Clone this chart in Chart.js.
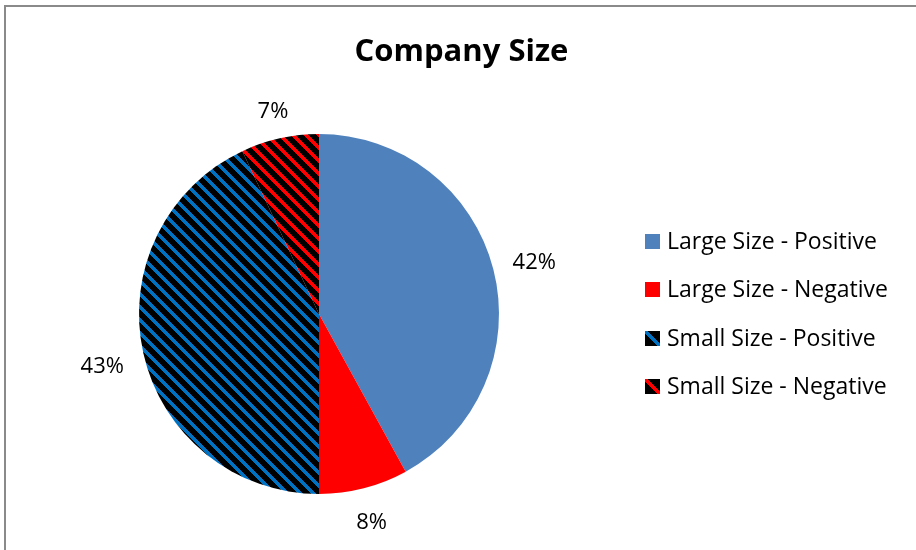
<!DOCTYPE html>
<html>
<head>
<meta charset="utf-8">
<script src="https://cdn.jsdelivr.net/npm/chart.js@4.4.1/dist/chart.umd.min.js"></script>
<style>
  html, body { margin: 0; padding: 0; background: #ffffff; }
  #wrap { position: relative; width: 916px; height: 550px; }
</style>
</head>
<body>
<div id="wrap"><canvas id="c" width="916" height="550"></canvas></div>
<script>
// ---- data ----
const titleText = 'Company Size';
const categories = ['Large Size - Positive', 'Large Size - Negative', 'Small Size - Positive', 'Small Size - Negative'];
const shares = [42, 8, 43, 7];

// ---- styles ----
const FONT = '"Open Sans", "Liberation Sans", sans-serif';

function stripePattern(color, period, width) {
  const cv = document.createElement('canvas');
  cv.width = period; cv.height = period;
  const cx = cv.getContext('2d');
  cx.fillStyle = '#000000';
  cx.fillRect(0, 0, period, period);
  cx.fillStyle = color;
  for (let y = 0; y < period; y++) {
    for (let x = 0; x < period; x++) {
      const d = ((x - y) % period + period) % period;
      if (d < width) cx.fillRect(x, y, 1, 1);
    }
  }
  return cv;
}
function legendSwatch(color, size) {
  const cv = document.createElement('canvas');
  cv.width = size; cv.height = size;
  const cx = cv.getContext('2d');
  cx.fillStyle = '#000000';
  cx.fillRect(0, 0, size, size);
  cx.fillStyle = color;
  for (let y = 0; y < size; y++) {
    for (let x = 0; x < size; x++) {
      if (Math.abs(x - y) <= 2) cx.fillRect(x, y, 1, 1);
    }
  }
  return cv;
}

const ctx0 = document.getElementById('c').getContext('2d');
const patBlue = ctx0.createPattern(stripePattern('#0070C0', 13, 5), 'repeat');
const patRed = ctx0.createPattern(stripePattern('#FF0000', 13, 5), 'repeat');
const fills = ['#4F81BD', '#FF0000', patBlue, patRed];
const swatches = [null, null, legendSwatch('#0070C0', 15), legendSwatch('#FF0000', 15)];

const decorPlugin = {
  id: 'decor',
  beforeDraw(chart) {
    const c = chart.ctx;
    c.save();
    c.fillStyle = '#ffffff';
    c.fillRect(0, 0, chart.width, chart.height);
    c.fillStyle = '#8a8a8a';
    c.fillRect(4, 5, 2, chart.height - 5);
    c.fillRect(4, 5, chart.width - 4, 2);
    c.restore();
  },
  afterDraw(chart) {
    const c = chart.ctx;
    c.save();
    // title
    c.fillStyle = '#000000';
    c.font = 'bold 31px ' + FONT;
    c.textAlign = 'center';
    c.textBaseline = 'alphabetic';
    c.fillText(titleText, 461.5, 61);

    // legend
    c.font = '23px ' + FONT;
    c.textAlign = 'left';
    const labels = chart.data.labels;
    const ds = chart.data.datasets[0];
    for (let i = 0; i < labels.length; i++) {
      const base = 249 + i * 48.3;
      if (swatches[i]) {
        c.drawImage(swatches[i], 645, Math.round(base - 15));
      } else {
        c.fillStyle = ds.backgroundColor[i];
        c.fillRect(645, Math.round(base - 15), 15, 15);
      }
      c.fillStyle = '#000000';
      c.fillText(labels[i], 667, base);
    }

    // data labels
    const meta = chart.getDatasetMeta(0);
    const total = ds.data.reduce((a, b) => a + b, 0);
    c.font = '22px ' + FONT;
    c.textAlign = 'center';
    meta.data.forEach((arc, i) => {
      const p = arc.getProps(['x', 'y', 'startAngle', 'endAngle', 'outerRadius'], true);
      const mid = (p.startAngle + p.endAngle) / 2;
      const txt = Math.round(ds.data[i] / total * 100) + '%';
      const hw = c.measureText(txt).width / 2;
      const hh = 9;
      const ext = hw * Math.abs(Math.cos(mid)) + hh * Math.abs(Math.sin(mid));
      const dist = p.outerRadius + 19 + ext;
      const tx = p.x + Math.cos(mid) * dist;
      const ty = p.y + Math.sin(mid) * dist;
      c.fillStyle = '#000000';
      c.fillText(txt, tx, ty + 10.5);
    });
    c.restore();
  }
};

new Chart(ctx0, {
  type: 'pie',
  data: {
    labels: categories,
    datasets: [{
      data: shares,
      backgroundColor: fills,
      borderWidth: 0,
      hoverOffset: 0
    }]
  },
  options: {
    responsive: false,
    animation: false,
    events: [],
    layout: { padding: { left: 139, right: 417, top: 134, bottom: 56 } },
    plugins: {
      legend: { display: false },
      title: { display: false },
      tooltip: { enabled: false }
    }
  },
  plugins: [decorPlugin]
});
</script>
</body>
</html>
